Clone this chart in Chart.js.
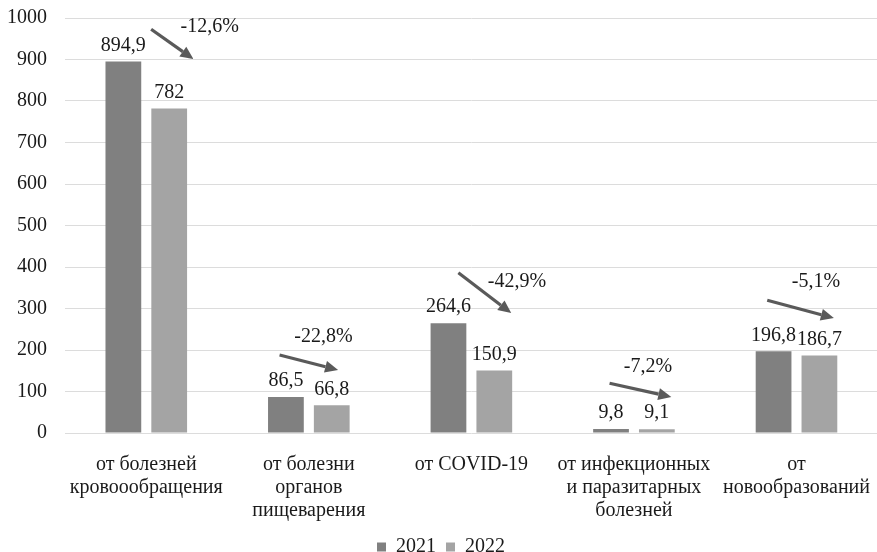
<!DOCTYPE html>
<html>
<head>
<meta charset="utf-8">
<script src="https://cdn.jsdelivr.net/npm/chart.js@4"></script>
<style>
html,body{margin:0;padding:0;background:#fff;overflow:hidden;}
#wrap{width:882px;height:552px;position:relative;}
</style>
</head>
<body>
<div id="wrap"><canvas id="c"></canvas></div>
<script>
const categories = [
  ['от болезней', 'кровоообращения'],
  ['от болезни', 'органов', 'пищеварения'],
  'от COVID-19',
  ['от инфекционных', 'и паразитарных', 'болезней'],
  ['от', 'новообразований']
];
const seriesNames = ['2021', '2022'];
const values2021 = [894.9, 86.5, 264.6, 9.8, 196.8];
const values2022 = [782, 66.8, 150.9, 9.1, 186.7];
const changeLabels = ['-12,6%', '-22,8%', '-42,9%', '-7,2%', '-5,1%'];
const yTicks = [0, 100, 200, 300, 400, 500, 600, 700, 800, 900, 1000];

// arrow annotation geometry: x in category-width offsets, y in value units
const arrowGeom = [
  {x0: 0.03, y0: 973, x1: 0.29, y1: 901, tx: 0.39, ty: 978},
  {x0: -0.18, y0: 188, x1: 0.18, y1: 152, tx: 0.09, ty: 231},
  {x0: -0.08, y0: 386, x1: 0.245, y1: 289, tx: 0.28, ty: 364},
  {x0: -0.15, y0: 120, x1: 0.23, y1: 87, tx: 0.086, ty: 159},
  {x0: -0.18, y0: 320, x1: 0.23, y1: 277, tx: 0.12, ty: 364}
];

const FONT = '"Liberation Serif", "Times New Roman", serif';
const TXT = '#1a1a1a';

const fmt = v => String(v).replace('.', ',');

const valueLabels = {
  id: 'valueLabels',
  afterDatasetsDraw(chart) {
    const ctx = chart.ctx;
    ctx.save();
    ctx.font = '20px ' + FONT;
    ctx.fillStyle = TXT;
    ctx.textAlign = 'center';
    ctx.textBaseline = 'middle';
    chart.data.datasets.forEach((ds, di) => {
      const meta = chart.getDatasetMeta(di);
      meta.data.forEach((bar, i) => {
        ctx.fillText(fmt(ds.data[i]), bar.x, bar.y - 16);
      });
    });
    ctx.restore();
  }
};

const arrows = {
  id: 'arrows',
  afterDatasetsDraw(chart) {
    const ctx = chart.ctx;
    const xs = chart.scales.x, ys = chart.scales.y;
    const cw = xs.getPixelForValue(1) - xs.getPixelForValue(0);
    ctx.save();
    arrowGeom.forEach((g, i) => {
      const cx = xs.getPixelForValue(i);
      const x0 = cx + g.x0 * cw, y0 = ys.getPixelForValue(g.y0);
      const x1 = cx + g.x1 * cw, y1 = ys.getPixelForValue(g.y1);
      const ang = Math.atan2(y1 - y0, x1 - x0);
      const hl = 13, hw = 6;
      const bx = x1 - hl * Math.cos(ang), by = y1 - hl * Math.sin(ang);
      ctx.strokeStyle = '#5a5a5a';
      ctx.fillStyle = '#5a5a5a';
      ctx.lineWidth = 3.2;
      ctx.beginPath();
      ctx.moveTo(x0, y0);
      ctx.lineTo(bx, by);
      ctx.stroke();
      ctx.beginPath();
      ctx.moveTo(x1, y1);
      ctx.lineTo(bx + hw * Math.sin(ang), by - hw * Math.cos(ang));
      ctx.lineTo(bx - hw * Math.sin(ang), by + hw * Math.cos(ang));
      ctx.closePath();
      ctx.fill();
      ctx.font = '20px ' + FONT;
      ctx.fillStyle = TXT;
      ctx.textAlign = 'center';
      ctx.textBaseline = 'middle';
      ctx.fillText(changeLabels[i], cx + g.tx * cw, ys.getPixelForValue(g.ty));
    });
    ctx.restore();
  }
};

new Chart(document.getElementById('c'), {
  type: 'bar',
  data: {
    labels: categories,
    datasets: [
      {label: seriesNames[0], data: values2021, backgroundColor: '#808080',
       categoryPercentage: 0.564, barPercentage: 0.78},
      {label: seriesNames[1], data: values2022, backgroundColor: '#a4a4a4',
       categoryPercentage: 0.564, barPercentage: 0.78}
    ]
  },
  options: {
    responsive: true,
    maintainAspectRatio: false,
    animation: false,
    layout: {padding: {left: 0, right: 0, top: 18, bottom: -15}},
    plugins: {
      legend: {
        position: 'bottom',
        labels: {
          boxWidth: 9, boxHeight: 9, padding: 10,
          color: TXT,
          font: {family: FONT, size: 20}
        }
      },
      tooltip: {enabled: false}
    },
    scales: {
      x: {
        grid: {display: false},
        border: {display: false},
        ticks: {
          color: TXT, font: {family: FONT, size: 20, lineHeight: '23px'},
          padding: 12, maxRotation: 0, autoSkip: false
        },
        afterFit(s) { s.height = 94; }
      },
      y: {
        min: 0, max: 1000,
        afterBuildTicks(s) { s.ticks = yTicks.map(v => ({value: v})); },
        grid: {color: '#dcdcdc', lineWidth: 1, drawTicks: true, tickLength: 18,
               tickColor: 'rgba(0,0,0,0)'},
        border: {display: false},
        ticks: {color: TXT, font: {family: FONT, size: 20}, padding: 0,
                callback: v => String(v)},
        afterFit(s) { s.width = 65; }
      }
    }
  },
  plugins: [valueLabels, arrows]
});
</script>
</body>
</html>
